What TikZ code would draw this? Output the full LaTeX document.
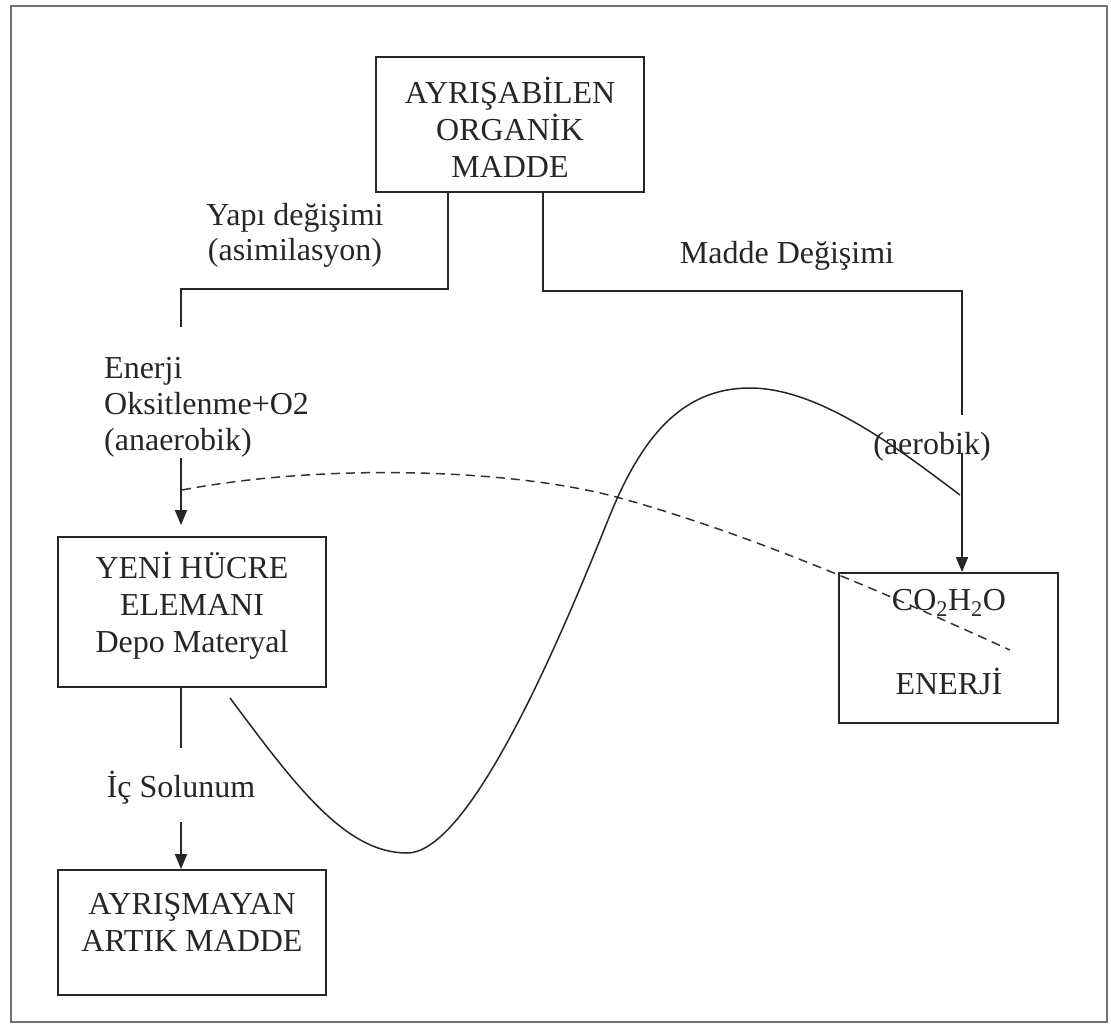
\documentclass[tikz,border=0pt]{standalone}
\usepackage{fontspec}
\setmainfont{Liberation Serif}
\usetikzlibrary{arrows.meta}
\begin{document}
\begin{tikzpicture}[x=1pt,y=-1pt,
  box/.style={draw=black!85,line width=1.8pt,rectangle,inner sep=0pt},
  txt/.style={font=\fontsize{32}{37}\selectfont,text=black!85,inner sep=0pt,align=center},
  conn/.style={draw=black!85,line width=1.6pt},
  arr/.style={conn,-{Triangle[length=15pt,width=12pt]}},
  curvy/.style={draw=black!85,line width=1.5pt},
  dashline/.style={draw=black!80,line width=1.5pt,dash pattern=on 9pt off 6pt}]
\useasboundingbox (0,0) rectangle (1111,1029);
\draw[draw=black!55,line width=2.5pt] (11,6) rectangle (1107,1022);

% boxes
\node[box,minimum width=268pt,minimum height=135pt] (top) at (510,124.5) {};
\node[txt] (toptxt) at (510,127) {AYRIŞABİLEN\\ORGANİK\\MADDE};

\node[box,minimum width=268pt,minimum height=150pt] (cell) at (192,612) {};
\node[txt] (celltxt) at (192,606) {YENİ HÜCRE\\ELEMANI\\Depo Materyal};

\node[box,minimum width=219pt,minimum height=150pt] (enr) at (948.5,648) {};
\node[txt] (co) at (949,603) {CO\textsubscript{2}H\textsubscript{2}O};
\node[txt] (entxt) at (949,681) {ENERJİ};

\node[box,minimum width=268pt,minimum height=125pt] (rest) at (192,932.5) {};
\node[txt] (resttxt) at (192,922) {AYRIŞMAYAN\\ARTIK MADDE};

% labels
\node[txt,font=\fontsize{32}{35}\selectfont] (yapi) at (295,235) {Yapı değişimi\\(asimilasyon)};
\node[txt,font=\fontsize{32}{36}\selectfont,align=left,anchor=west] (enerji) at (104,407) {Enerji\\Oksitlenme+O2\\(anaerobik)};
\node[txt] (madde) at (787,256) {Madde Değişimi};
\node[txt] (aero) at (932,447) {(aerobik)};
\node[txt] (ic) at (181,788) {İç Solunum};

% coordinates
\coordinate (jl) at (448,289);
\coordinate (ll) at (181,327);
\coordinate (jr) at (543,291);
\coordinate (rr) at (962,415);
\coordinate (la) at (181,458);
\coordinate (ra) at (962,453);
\coordinate (lb) at (181,748);
\coordinate (lc) at (181,822);

% connectors
\draw[conn] (top.south -| jl) -- (jl) -| (ll);
\draw[conn] (top.south -| jr) -- (jr) -| (rr);
\draw[arr] (ra) -- (enr.north -| ra);
\draw[arr,shorten >=11pt] (la) -- (cell.north -| la);
\draw[conn] (cell.south -| lb) -- (lb);
\draw[arr] (lc) -- (rest.north -| lc);

% curves
\draw[curvy] (230,698) .. controls (295,785) and (345,853) .. (407,853)
  .. controls (470,853) and (560,640) .. (608,520)
  .. controls (640,440) and (680,388) .. (750,388)
  .. controls (820,388) and (900,450) .. (960,495);
\draw[dashline] (182,490) .. controls (330,462) and (520,470) .. (620,498)
  .. controls (760,537) and (900,600) .. (1010,650);
\end{tikzpicture}
\end{document}
